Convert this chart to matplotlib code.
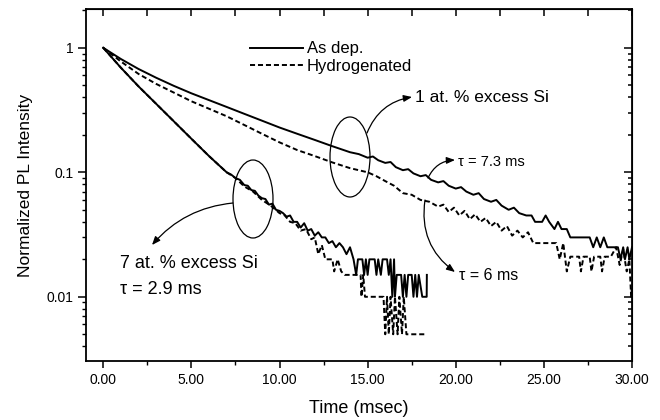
import numpy as np
import matplotlib
matplotlib.use('Agg')
from matplotlib import pyplot as plt
from matplotlib.patches import Ellipse
from matplotlib.ticker import MultipleLocator, FixedLocator, FuncFormatter, LogLocator, NullFormatter

plt.rcParams['font.family'] = ['Liberation Sans', 'DejaVu Sans']

# 1 at.% excess Si, as deposited (solid)
t_1as = [0, 1, 2, 3, 4, 5, 6, 7, 8, 9, 10, 11, 12, 13, 14,
         14.5, 15.0, 15.3, 15.6, 16.0, 16.3, 16.6, 17.0, 17.3, 17.6, 18.0, 18.3, 18.6,
         19.0, 19.3, 19.6, 20.0, 20.3, 20.6, 21.0, 21.3, 21.6, 22.0, 22.3, 22.6,
         23.0, 23.3, 23.6, 24.0, 24.3, 24.5, 24.9, 25.1, 25.3, 25.6, 25.8, 26.0,
         26.3, 26.5, 27.6, 27.8, 28.0, 28.2, 28.4, 28.6, 29.2, 29.35, 29.5, 29.6,
         29.75, 29.85, 30.0]
v_1as = [1.0, 0.813, 0.676, 0.575, 0.495, 0.431, 0.380, 0.335, 0.295, 0.260, 0.229, 0.204, 0.182, 0.162, 0.145,
         0.140, 0.131, 0.134, 0.125, 0.119, 0.121, 0.110, 0.104, 0.106, 0.098, 0.093, 0.095, 0.087,
         0.083, 0.085, 0.078, 0.074, 0.076, 0.070, 0.066, 0.068, 0.061, 0.058, 0.060, 0.054,
         0.050, 0.052, 0.047, 0.045, 0.045, 0.040, 0.040, 0.045, 0.040, 0.035, 0.040, 0.035,
         0.035, 0.030, 0.030, 0.025, 0.030, 0.025, 0.030, 0.025, 0.025, 0.020, 0.025, 0.020,
         0.025, 0.020, 0.025]

# 1 at.% excess Si, hydrogenated (dashed)
t_1h = [0, 1, 2, 3, 4, 5, 6, 7, 8, 9, 10, 11, 12, 13, 14,
        15.0, 15.5, 16.0, 16.5, 17.0, 17.5, 18.0, 18.5, 19.0, 19.3, 19.6, 19.9,
        20.2, 20.5, 20.8, 21.1, 21.4, 21.7, 22.0, 22.3, 22.6, 22.9, 23.2, 23.5,
        23.8, 24.1, 24.4, 25.7, 25.9, 26.1, 26.3, 26.5, 27.0, 27.1, 27.25, 27.6,
        27.7, 27.85, 28.2, 28.3, 28.45, 28.8, 29.1, 29.3, 29.5, 29.7, 29.85, 29.95, 30.0]
v_1h = [1.0, 0.776, 0.617, 0.513, 0.437, 0.372, 0.324, 0.282, 0.240, 0.204, 0.174, 0.151, 0.135, 0.120, 0.108,
        0.100, 0.093, 0.085, 0.078, 0.068, 0.066, 0.060, 0.058, 0.053, 0.055, 0.048, 0.052,
        0.045, 0.049, 0.042, 0.046, 0.040, 0.043, 0.037, 0.040, 0.034, 0.037, 0.031, 0.034,
        0.030, 0.033, 0.027, 0.027, 0.020, 0.027, 0.016, 0.021, 0.021, 0.016, 0.021, 0.021,
        0.016, 0.021, 0.021, 0.016, 0.021, 0.021, 0.025, 0.018, 0.024, 0.016, 0.020, 0.010, 0.012]

# 7 at.% excess Si, as deposited (solid)
t_7as = [0, 1, 2, 3, 4, 5, 6, 7,
         7.25, 7.5, 7.75, 8.0, 8.2, 8.4, 8.6, 8.8, 9.0, 9.2, 9.4, 9.6, 9.8, 10.0,
         10.2, 10.4, 10.6, 10.8, 11.0, 11.2, 11.4, 11.6, 11.8, 12.0, 12.2, 12.4,
         12.6, 12.8, 13.0, 13.2, 13.4, 13.6, 13.8, 14.0, 14.2,
         14.35, 14.45, 14.7, 14.8, 14.9, 15.0, 15.1, 15.4, 15.5, 15.6, 15.75, 15.85,
         16.1, 16.2, 16.3, 16.4, 16.5, 16.55, 16.65, 16.9, 17.0, 17.1, 17.2, 17.3,
         17.5, 17.6, 17.7, 17.8, 17.9, 18.1, 18.35, 18.36]
v_7as = [1.0, 0.692, 0.490, 0.355, 0.257, 0.186, 0.135, 0.100,
         0.096, 0.090, 0.087, 0.079, 0.078, 0.072, 0.071, 0.065, 0.062, 0.061, 0.055, 0.056, 0.050, 0.049,
         0.047, 0.044, 0.045, 0.040, 0.040, 0.036, 0.039, 0.034, 0.035, 0.031, 0.033, 0.030,
         0.030, 0.027, 0.028, 0.025, 0.027, 0.025, 0.022, 0.025, 0.020,
         0.015, 0.020, 0.020, 0.015, 0.020, 0.015, 0.020, 0.020, 0.015, 0.020, 0.015, 0.020,
         0.020, 0.015, 0.020, 0.010, 0.020, 0.010, 0.015, 0.015, 0.010, 0.015, 0.010, 0.015,
         0.015, 0.010, 0.015, 0.010, 0.015, 0.010, 0.010, 0.015]

# 7 at.% excess Si, hydrogenated (dashed)
t_7h = [0, 1, 2, 3, 4, 5, 6, 7,
        7.5, 8.0, 8.5, 9.0, 9.5, 10.0, 10.3, 10.6, 10.9, 11.2, 11.5, 11.8, 12.0,
        12.2, 12.4, 12.6, 13.0, 13.1, 13.3, 13.5, 13.7, 14.6, 14.65, 14.75, 14.85,
        15.9, 16.0, 16.1, 16.2, 16.3, 16.45, 16.55, 16.7, 16.8, 16.95, 17.05, 17.2, 18.35]
v_7h = [1.0, 0.692, 0.490, 0.355, 0.257, 0.186, 0.135, 0.100,
        0.090, 0.077, 0.070, 0.060, 0.054, 0.047, 0.045, 0.040, 0.039, 0.034, 0.035, 0.029, 0.030,
        0.022, 0.026, 0.020, 0.020, 0.016, 0.020, 0.016, 0.015, 0.015, 0.010, 0.015, 0.010,
        0.010, 0.005, 0.010, 0.005, 0.010, 0.005, 0.010, 0.005, 0.010, 0.005, 0.010, 0.005, 0.005]

x_ticks = [0, 5, 10, 15, 20, 25, 30]
y_ticks = [0.01, 0.1, 1]
y_ticklabels = ['0.01', '0.1', '1']

W, H = 660, 420


def px(x, y):
    # image pixel (from top-left) -> figure fraction
    return (x / W, 1 - y / H)


fig = plt.figure(figsize=(6.6, 4.2), dpi=100)
ax = fig.add_axes([86 / W, 1 - 361 / H, (632 - 86) / W, (361 - 9) / H])

lw = 1.4
dash = (2.6, 1.5)
ax.plot(t_1as, v_1as, color='black', lw=lw, label='As dep.')
ax.plot(t_1h, v_1h, color='black', lw=lw, dashes=dash, label='Hydrogenated')
ax.plot(t_7as, v_7as, color='black', lw=lw)
ax.plot(t_7h, v_7h, color='black', lw=lw, dashes=dash)

ax.set_yscale('log')
ax.set_xlim(-0.98, 30)
ax.set_ylim(0.00305, 2.05)

ax.xaxis.set_major_locator(FixedLocator(x_ticks))
ax.xaxis.set_minor_locator(MultipleLocator(2.5))
ax.xaxis.set_major_formatter(FuncFormatter(lambda v, p: '%.2f' % v))
ax.yaxis.set_major_locator(FixedLocator(y_ticks))
ax.yaxis.set_major_formatter(FuncFormatter(lambda v, p: y_ticklabels[y_ticks.index(v)] if v in y_ticks else ''))
ax.yaxis.set_minor_locator(LogLocator(base=10, subs=np.arange(2, 10)))
ax.yaxis.set_minor_formatter(NullFormatter())

for s in ax.spines.values():
    s.set_linewidth(1.3)
ax.tick_params(axis='x', which='major', direction='out', length=5, width=1.1, labelsize=10, pad=4)
ax.tick_params(axis='x', which='minor', direction='out', length=3, width=1.0)
ax.tick_params(axis='y', which='major', direction='out', length=6, width=1.1, labelsize=10, pad=3)
ax.tick_params(axis='y', which='minor', direction='out', length=3, width=1.0)

top = ax.secondary_xaxis('top')
top.xaxis.set_major_locator(FixedLocator(x_ticks))
top.xaxis.set_minor_locator(MultipleLocator(2.5))
top.tick_params(which='both', direction='in', labeltop=False, width=1.1)
top.tick_params(which='major', length=5)
top.tick_params(which='minor', length=5)

right = ax.secondary_yaxis('right')
right.yaxis.set_major_locator(FixedLocator(y_ticks))
right.yaxis.set_minor_locator(LogLocator(base=10, subs=np.arange(2, 10)))
right.yaxis.set_minor_formatter(NullFormatter())
right.tick_params(which='both', direction='in', labelright=False, width=1.1)
right.tick_params(which='major', length=6)
right.tick_params(which='minor', length=3)

ax.set_xlabel('Time (msec)', fontsize=13, labelpad=9)
ax.set_ylabel('Normalized PL Intensity', fontsize=12.5, labelpad=2)
ax.yaxis.set_label_coords(-0.097, 0.5)

ax.legend(loc='upper left', bbox_to_anchor=((255 - 86) / 546 - 0.01, 1 - (45 - 9) / 352 + 0.01),
          frameon=False, fontsize=12, handlelength=3.2, handletextpad=0.25, labelspacing=0.15,
          borderaxespad=0, borderpad=0)

# ellipses grouping the curve pairs
for cx, cy, ew, eh in [(350, 157, 40, 80), (253, 199, 40, 78)]:
    e = Ellipse(px(cx, cy), ew / W, eh / H, transform=fig.transFigure,
                fill=False, edgecolor='black', lw=0.9)
    fig.add_artist(e)

fig.text(*px(415, 97), '1 at. % excess Si', fontsize=12.5, va='center', ha='left')
fig.text(*px(458, 162), '\u03c4 = 7.3 ms', fontsize=10.5, va='center', ha='left')
fig.text(*px(459, 275), '\u03c4 = 6 ms', fontsize=11.5, va='center', ha='left')
fig.text(*px(120, 263), '7 at. % excess Si', fontsize=13, va='center', ha='left')
fig.text(*px(120, 290), '\u03c4 = 2.9 ms', fontsize=13, va='center', ha='left')

arrows = [((367, 133), (412, 97), -0.28),
          ((428, 178), (455, 160), -0.3),
          ((425, 200), (455, 272), 0.3),
          ((233, 203), (152, 245), 0.2)]
for a, b, rad in arrows:
    ax.annotate('', xy=px(*b), xycoords='figure fraction', xytext=px(*a), textcoords='figure fraction',
                arrowprops=dict(arrowstyle='-|>,head_length=0.5,head_width=0.2', color='black', lw=0.9,
                                shrinkA=0, shrinkB=0, connectionstyle='arc3,rad=%s' % rad))

fig.savefig('out.png', dpi=100)
